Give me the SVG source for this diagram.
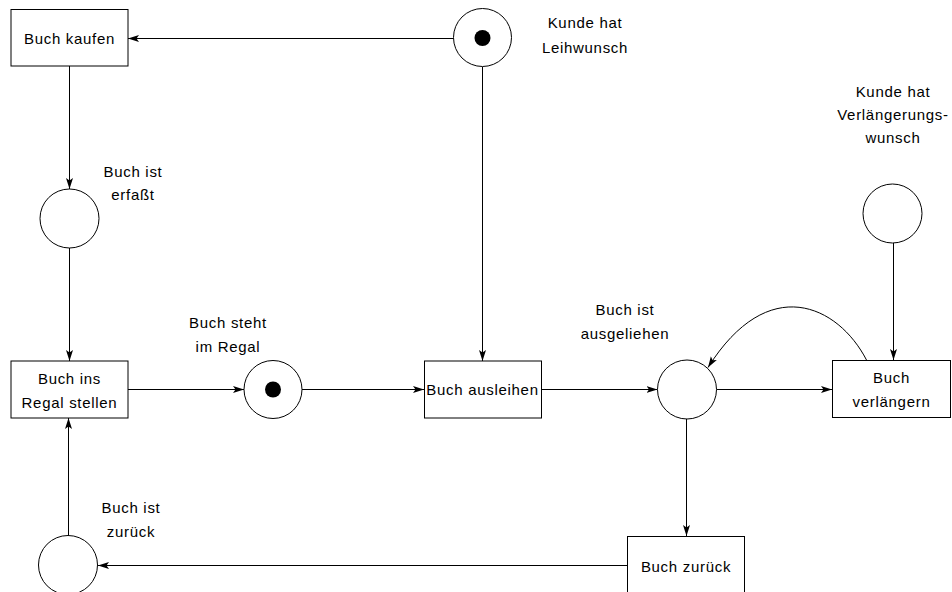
<svg xmlns="http://www.w3.org/2000/svg" width="952" height="592" viewBox="0 0 952 592">
<style>
.t{fill:#fff;stroke:#000;stroke-width:1}
.p{fill:#fff;stroke:#000;stroke-width:1}
.k{fill:#000}
.c{fill:none;stroke:#000;stroke-width:1}
text{font-family:"Liberation Sans",Arial,sans-serif;font-size:15px;letter-spacing:0.7px;fill:#000;text-anchor:middle}
</style>
<defs>
<marker id="a" markerUnits="userSpaceOnUse" markerWidth="12" markerHeight="8" refX="11" refY="3.5" orient="auto">
<path d="M0,0 L11,3.5 L0,7 L2.5,3.5 Z" fill="#000"/>
</marker>
</defs>
<rect width="952" height="592" fill="#fff"/>
<g id="connectors">
<path class="c" d="M453.5,38.5 L128,38.5" marker-end="url(#a)"/>
<path class="c" d="M69.5,66 L69.5,189" marker-end="url(#a)"/>
<path class="c" d="M69.5,248 L69.5,361" marker-end="url(#a)"/>
<path class="c" d="M128,389.5 L244,389.5" marker-end="url(#a)"/>
<path class="c" d="M302,389.5 L424,389.5" marker-end="url(#a)"/>
<path class="c" d="M482.5,67 L482.5,361" marker-end="url(#a)"/>
<path class="c" d="M541.5,389.5 L657.5,389.5" marker-end="url(#a)"/>
<path class="c" d="M716.5,389.5 L832,389.5" marker-end="url(#a)"/>
<path class="c" d="M866.5,360 C838,305 768,272 708,367.5" marker-end="url(#a)"/>
<path class="c" d="M893.5,243 L893.5,360" marker-end="url(#a)"/>
<path class="c" d="M686.5,419 L686.5,536" marker-end="url(#a)"/>
<path class="c" d="M627,565.5 L98,565.5" marker-end="url(#a)"/>
<path class="c" d="M68.5,535.5 L68.5,418" marker-end="url(#a)"/>
</g>
<g id="t-kaufen"><rect class="t" x="11" y="9.5" width="117" height="56.5"/><text x="69.5" y="44">Buch kaufen</text></g>
<g id="t-regal"><rect class="t" x="11" y="361" width="117" height="57"/><text x="69.5" y="384">Buch ins</text><text x="69.5" y="408">Regal stellen</text></g>
<g id="t-ausleihen"><rect class="t" x="424.5" y="361" width="117" height="57"/><text x="482.5" y="395">Buch ausleihen</text></g>
<g id="t-verlaengern"><rect class="t" x="832.5" y="360.5" width="118" height="57"/><text x="891.5" y="383">Buch</text><text x="891.5" y="407">verlängern</text></g>
<g id="t-zurueck"><rect class="t" x="627.5" y="536.5" width="117" height="57"/><text x="686" y="572">Buch zurück</text></g>
<g id="p-leihwunsch"><circle class="p" cx="482.5" cy="37.5" r="29"/><circle class="k" cx="482.5" cy="38" r="8"/><text x="585" y="28">Kunde hat</text><text x="585" y="53">Leihwunsch</text></g>
<g id="p-erfasst"><circle class="p" cx="69.5" cy="218.5" r="29.5"/><text x="133" y="177">Buch ist</text><text x="133" y="200">erfaßt</text></g>
<g id="p-imregal"><circle class="p" cx="273" cy="389.5" r="29"/><circle class="k" cx="273" cy="389.5" r="8"/><text x="228" y="328">Buch steht</text><text x="228" y="352">im Regal</text></g>
<g id="p-ausgeliehen"><circle class="p" cx="687" cy="389.5" r="29.5"/><text x="625" y="315">Buch ist</text><text x="625" y="339">ausgeliehen</text></g>
<g id="p-verlwunsch"><circle class="p" cx="892.5" cy="213.5" r="29.5"/><text x="893" y="97">Kunde hat</text><text x="893" y="120">Verlängerungs-</text><text x="893" y="143">wunsch</text></g>
<g id="p-zurueck"><circle class="p" cx="68" cy="565" r="29.5"/><text x="131" y="513">Buch ist</text><text x="131" y="537">zurück</text></g>
</svg>
